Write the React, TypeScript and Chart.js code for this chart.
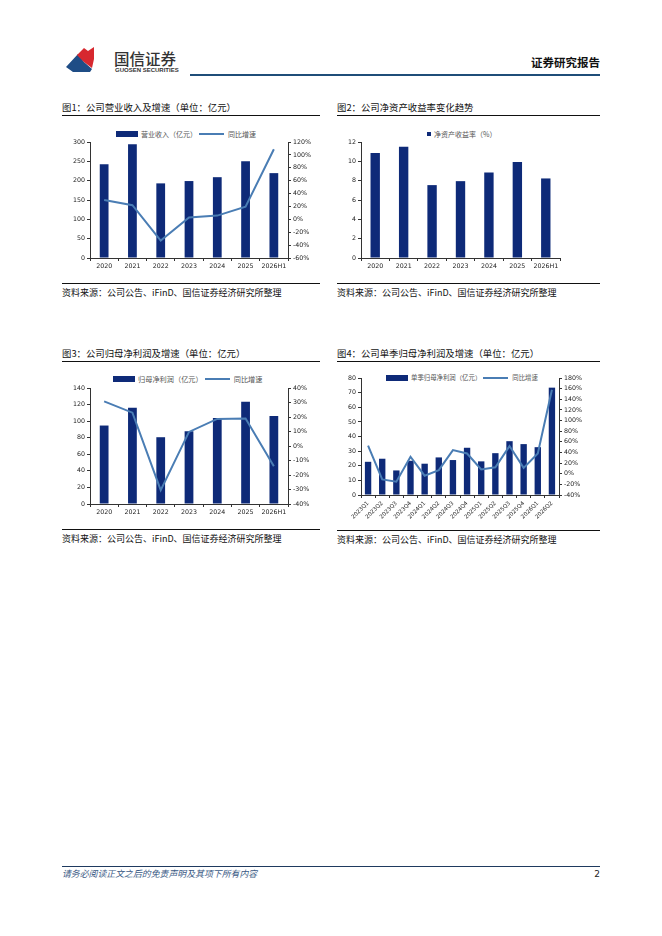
import React, { useEffect, useRef } from "react";
import { Chart, registerables } from "chart.js";

Chart.register(...registerables);

// ---------- data ----------
const years = ["2020", "2021", "2022", "2023", "2024", "2025", "2026H1"];
const revenue = [242.5, 294, 193, 199, 209, 250, 219.5];
const revenueGrowth = [30, 22, -33, 2.7, 5.8, 19.7, 108.8];
const roe = [10.87, 11.52, 7.54, 7.95, 8.84, 9.94, 8.23];
const netProfit = [94.7, 116.3, 80.6, 87.8, 103.9, 123.5, 106.3];
const netProfitGrowth = [30.8, 23, -30.4, 9.7, 18.7, 18.9, -13.9];
const quarters = [
  "2023Q1", "2023Q2", "2023Q3", "2023Q4",
  "2024Q1", "2024Q2", "2024Q3", "2024Q4",
  "2025Q1", "2025Q2", "2025Q3", "2025Q4",
  "2026Q1", "2026Q2",
];
const quarterProfit = [22.7, 24.8, 16.8, 23.4, 21.4, 25.7, 23.9, 32.3, 23, 28.6, 36.8, 34.8, 32.7, 73.4];
const quarterGrowth = [53, -10.6, -15, 31.9, -3.7, 6.9, 44.4, 38, 8, 12, 52, 11, 38, 158];

// axis ranges [min, max, step]
const revenueAxis = [0, 300, 50];
const revenueGrowthAxis = [-60, 120, 20];
const roeAxis = [0, 12, 2];
const profitAxis = [0, 140, 20];
const profitGrowthAxis = [-40, 40, 10];
const quarterAxis = [0, 80, 10];
const quarterGrowthAxis = [-40, 180, 20];

// ---------- styles ----------
const BAR = "#0e2a78";
const LINE = "#4a7db4";
const AXIS = "#333333";
const TICKTXT = "#222222";
const CJK = "'Noto Sans CJK SC', 'Noto Sans', sans-serif";
const NUMFONT = "'DejaVu Sans', sans-serif";

type Cfg = {
  labels: string[];
  bars: number[];
  barLabel: string;
  line?: number[];
  lineLabel?: string;
  left: number[];
  right?: number[];
  leftW: number;
  rightW?: number;
  padTop: number;
  padRight?: number;
  xH: number;
  barPct: number;
  rotate?: number;
  xFont?: number;
};

function makeConfig(c: Cfg): any {
  const font = { family: NUMFONT, size: 6.3 };
  const scales: any = {
    x: {
      offset: true,
      grid: {
        display: true,
        drawOnChartArea: false,
        drawTicks: true,
        tickLength: 3,
        color: AXIS,
        offset: true,
      },
      border: { display: true, color: AXIS, width: 1 },
      ticks: {
        font: { family: NUMFONT, size: c.xFont ?? 6.3 },
        color: TICKTXT,
        padding: 2,
        autoSkip: false,
        maxRotation: c.rotate ?? 0,
        minRotation: c.rotate ?? 0,
      },
      afterFit: (s: any) => {
        s.height = c.xH;
      },
    },
    y: {
      position: "left",
      min: c.left[0],
      max: c.left[1],
      ticks: { stepSize: c.left[2], font, color: TICKTXT, padding: 2 },
      grid: { drawOnChartArea: false, tickLength: 3, color: AXIS },
      border: { display: true, color: AXIS, width: 1 },
      afterFit: (s: any) => {
        s.width = c.leftW;
      },
    },
  };
  if (c.right) {
    scales.y1 = {
      position: "right",
      min: c.right[0],
      max: c.right[1],
      ticks: {
        stepSize: c.right[2],
        font,
        color: TICKTXT,
        padding: 2,
        callback: (v: any) => v + "%",
      },
      grid: { drawOnChartArea: false, tickLength: 3, color: AXIS },
      border: { display: true, color: AXIS, width: 1 },
      afterFit: (s: any) => {
        s.width = c.rightW ?? 34;
      },
    };
  }
  const datasets: any[] = [
    {
      type: "bar",
      label: c.barLabel,
      data: c.bars,
      backgroundColor: BAR,
      borderWidth: 0,
      barPercentage: c.barPct,
      categoryPercentage: 1,
      yAxisID: "y",
      order: 2,
    },
  ];
  if (c.line) {
    datasets.push({
      type: "line",
      label: c.lineLabel,
      data: c.line,
      borderColor: LINE,
      backgroundColor: LINE,
      borderWidth: 2,
      pointRadius: 0,
      tension: 0,
      yAxisID: "y1",
      order: 1,
    });
  }
  return {
    type: "bar",
    data: { labels: c.labels, datasets },
    options: {
      animation: false,
      responsive: false,
      maintainAspectRatio: false,
      layout: { padding: { top: c.padTop, right: c.padRight ?? 0, left: 0, bottom: 0 } },
      plugins: { legend: { display: false }, tooltip: { enabled: false } },
      scales,
    },
  };
}

function ChartBox(props: { left: number; top: number; width: number; height: number; cfg: Cfg }) {
  const ref = useRef<HTMLCanvasElement | null>(null);
  useEffect(() => {
    if (!ref.current) return;
    const chart = new Chart(ref.current, makeConfig(props.cfg));
    return () => chart.destroy();
  }, []);
  return (
    <canvas
      ref={ref}
      width={props.width}
      height={props.height}
      style={{
        position: "absolute",
        left: props.left,
        top: props.top,
        width: props.width,
        height: props.height,
      }}
    />
  );
}

function Legend(props: {
  left: number;
  cy: number;
  barText: string;
  lineText?: string;
  size: number;
  square?: boolean;
}) {
  const txt: React.CSSProperties = {
    fontFamily: CJK,
    fontSize: props.size,
    color: "#555",
    lineHeight: "10px",
    whiteSpace: "nowrap",
  };
  return (
    <div
      style={{
        position: "absolute",
        left: props.left,
        top: props.cy - 5,
        height: 10,
        display: "flex",
        alignItems: "center",
      }}
    >
      <div
        style={{
          width: props.square ? 4 : 22,
          height: props.square ? 4 : 6,
          background: BAR,
          marginRight: 3,
        }}
      />
      <span style={txt}>{props.barText}</span>
      {props.lineText ? (
        <>
          <div style={{ width: 25, height: 2, background: LINE, marginLeft: 2, marginRight: 4 }} />
          <span style={txt}>{props.lineText}</span>
        </>
      ) : null}
    </div>
  );
}

function Title(props: { left: number; top: number; width: number; text: string }) {
  return (
    <>
      <div
        style={{
          position: "absolute",
          left: props.left,
          top: props.top - 7,
          fontFamily: CJK,
          fontSize: 9.4,
          lineHeight: "14px",
          color: "#111",
          fontWeight: 400,
          whiteSpace: "nowrap",
        }}
      >
        {props.text}
      </div>
      <div
        style={{
          position: "absolute",
          left: props.left,
          top: props.top + 8,
          width: props.width,
          height: 1,
          background: "#111",
        }}
      />
    </>
  );
}

function Source(props: { left: number; top: number; width: number }) {
  return (
    <>
      <div
        style={{
          position: "absolute",
          left: props.left,
          top: props.top,
          width: props.width,
          height: 1,
          background: "#111",
        }}
      />
      <div
        style={{
          position: "absolute",
          left: props.left,
          top: props.top + 3,
          fontFamily: CJK,
          fontSize: 9,
          lineHeight: "14px",
          color: "#111",
          whiteSpace: "nowrap",
        }}
      >
        资料来源：公司公告、iFinD、国信证券经济研究所整理
      </div>
    </>
  );
}

export default function App() {
  return (
    <div
      style={{
        position: "absolute",
        left: 0,
        top: 0,
        width: 662,
        height: 936,
        background: "#fff",
        overflow: "hidden",
      }}
    >
      {/* header */}
      <svg style={{ position: "absolute", left: 64, top: 45 }} width={34} height={30} viewBox="0 0 34 30">
        <polygon points="2,22 14,9 20,17 28,24 26,27 9,27" fill="#1f4d86" />
        <polygon points="13,10 20,3 24,6 30,2 30,14 28,23 20,17" fill="#d7282f" />
      </svg>
      <div
        style={{
          position: "absolute",
          left: 114,
          top: 48,
          fontFamily: CJK,
          fontSize: 15.5,
          lineHeight: "20px",
          color: "#333",
          fontWeight: 500,
          whiteSpace: "nowrap",
        }}
      >
        国信证券
      </div>
      <div
        style={{
          position: "absolute",
          left: 115,
          top: 67,
          fontFamily: "'Liberation Sans Narrow', 'Liberation Sans', sans-serif",
          fontSize: 6,
          lineHeight: "7px",
          color: "#333",
          fontWeight: 700,
          whiteSpace: "nowrap",
        }}
      >
        GUOSEN SECURITIES
      </div>
      <div
        style={{
          position: "absolute",
          left: 190,
          top: 74,
          width: 410,
          height: 2,
          background: "#1f4e79",
        }}
      />
      <div
        style={{
          position: "absolute",
          right: 62,
          top: 54,
          fontFamily: CJK,
          fontSize: 11.5,
          lineHeight: "16px",
          color: "#111",
          fontWeight: 700,
          whiteSpace: "nowrap",
        }}
      >
        证券研究报告
      </div>

      {/* chart 1 */}
      <Title left={62} top={107} width={258} text="图1：公司营业收入及增速（单位：亿元）" />
      <Legend left={116} cy={134} barText="营业收入（亿元）" lineText="同比增速" size={7} />
      <ChartBox
        left={62}
        top={120}
        width={260}
        height={162}
        cfg={{
          labels: years,
          bars: revenue,
          barLabel: "营业收入（亿元）",
          line: revenueGrowth,
          lineLabel: "同比增速",
          left: revenueAxis,
          right: revenueGrowthAxis,
          leftW: 28,
          rightW: 34,
          padTop: 22,
          xH: 24,
          barPct: 0.31,
        }}
      />
      <Source left={62} top={283} width={258} />

      {/* chart 2 */}
      <Title left={337} top={107} width={263} text="图2：公司净资产收益率变化趋势" />
      <Legend left={427} cy={134} barText="净资产收益率（%）" size={7} square />
      <ChartBox
        left={337}
        top={120}
        width={260}
        height={162}
        cfg={{
          labels: years,
          bars: roe,
          barLabel: "净资产收益率（%）",
          left: roeAxis,
          leftW: 24,
          padTop: 22,
          padRight: 37,
          xH: 24,
          barPct: 0.33,
        }}
      />
      <Source left={337} top={283} width={263} />

      {/* chart 3 */}
      <Title left={62} top={353} width={258} text="图3：公司归母净利润及增速（单位：亿元）" />
      <Legend left={113} cy={379} barText="归母净利润（亿元）" lineText="同比增速" size={7.2} />
      <ChartBox
        left={62}
        top={366}
        width={260}
        height={162}
        cfg={{
          labels: years,
          bars: netProfit,
          barLabel: "归母净利润（亿元）",
          line: netProfitGrowth,
          lineLabel: "同比增速",
          left: profitAxis,
          right: profitGrowthAxis,
          leftW: 28,
          rightW: 34,
          padTop: 22,
          xH: 24,
          barPct: 0.31,
        }}
      />
      <Source left={62} top={529} width={258} />

      {/* chart 4 */}
      <Title left={337} top={353} width={263} text="图4：公司单季归母净利润及增速（单位：亿元）" />
      <Legend left={386} cy={378} barText="单季归母净利润（亿元）" lineText="同比增速" size={6.4} />
      <ChartBox
        left={337}
        top={365}
        width={260}
        height={163}
        cfg={{
          labels: quarters,
          bars: quarterProfit,
          barLabel: "单季归母净利润（亿元）",
          line: quarterGrowth,
          lineLabel: "同比增速",
          left: quarterAxis,
          right: quarterGrowthAxis,
          leftW: 24,
          rightW: 38,
          padTop: 13,
          xH: 33,
          barPct: 0.45,
          rotate: 45,
          xFont: 5.6,
        }}
      />
      <Source left={337} top={530} width={263} />

      {/* footer */}
      <div
        style={{
          position: "absolute",
          left: 62,
          top: 866,
          width: 538,
          height: 1,
          background: "#1f3a5f",
        }}
      />
      <div
        style={{
          position: "absolute",
          left: 62,
          top: 868,
          fontFamily: CJK,
          fontSize: 8.9,
          lineHeight: "12px",
          color: "#3a5a85",
          fontStyle: "italic",
          whiteSpace: "nowrap",
        }}
      >
        请务必阅读正文之后的免责声明及其项下所有内容
      </div>
      <div
        style={{
          position: "absolute",
          right: 62,
          top: 868,
          fontFamily: NUMFONT,
          fontSize: 9,
          lineHeight: "12px",
          color: "#222",
        }}
      >
        2
      </div>
    </div>
  );
}
